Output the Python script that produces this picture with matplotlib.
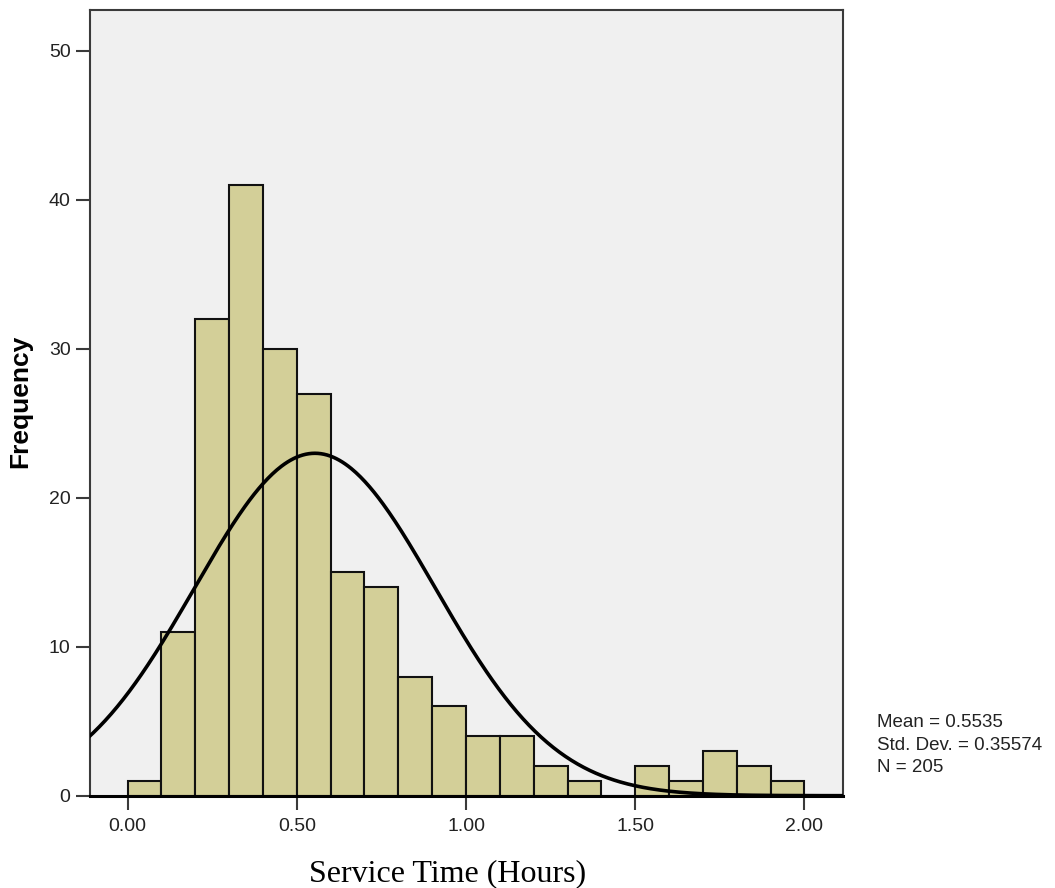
import numpy as np
import matplotlib
matplotlib.use("Agg")
import matplotlib.pyplot as plt
from matplotlib.ticker import FormatStrFormatter

# Data
bin_edges = [round(0.1 * i, 1) for i in range(21)]
counts = [1, 11, 32, 41, 30, 27, 15, 14, 8, 6, 4, 4, 2, 1, 0, 2, 1, 3, 2, 1]
mean_val = 0.5535
std_val = 0.35574
n_val = 205
x_ticks = [0.0, 0.5, 1.0, 1.5, 2.0]
y_ticks = [0, 10, 20, 30, 40, 50]

fig = plt.figure(figsize=(10.55, 8.88), dpi=100)
ax = fig.add_axes([90 / 1055, (888 - 795.7) / 888, (842.7 - 90) / 1055, (795.7 - 10) / 888])
ax.set_facecolor("#f0f0f0")

lefts = bin_edges[:-1]
widths = [bin_edges[i + 1] - bin_edges[i] for i in range(len(counts))]
ax.bar(lefts, counts, width=widths, align="edge", color="#d3cf98",
       edgecolor="#111111", linewidth=1.5, zorder=2)

bw = widths[0]
xs = np.linspace(-0.12, 2.12, 500)
ys = n_val * bw * np.exp(-0.5 * ((xs - mean_val) / std_val) ** 2) / (std_val * np.sqrt(2 * np.pi))
ax.plot(xs, ys, color="black", linewidth=2.6, zorder=3)

ax.set_xlim(-0.111, 2.113)
ax.set_ylim(0, 52.75)
ax.set_xticks(x_ticks)
ax.set_yticks(y_ticks)
ax.xaxis.set_major_formatter(FormatStrFormatter("%.2f"))

for s in ["left", "top", "right"]:
    ax.spines[s].set_color("#3a3a3a")
    ax.spines[s].set_linewidth(1.5)
ax.spines["bottom"].set_color("black")
ax.spines["bottom"].set_linewidth(2.2)
ax.spines["bottom"].set_zorder(4)

ax.tick_params(axis="both", direction="out", length=10, width=1.5, color="#3a3a3a",
               labelcolor="#222222", labelsize=14)
ax.tick_params(axis="x", pad=6)
ax.tick_params(axis="y", pad=4)
for lab in ax.get_xticklabels() + ax.get_yticklabels():
    lab.set_family("Liberation Sans")

fig.text(20 / 1055, 1 - 401 / 888, "Frequency", rotation=90, ha="center", va="center",
         fontsize=19, fontweight="bold", family="Liberation Sans", color="black")

fig.text(448 / 1055, (888 - 881) / 888, "Service Time (Hours)", ha="center", va="baseline",
         fontsize=23, family="Liberation Serif", color="black")

stats = [f"Mean = {mean_val:.4f}", f"Std. Dev. = {std_val:.5f}", f"N = {n_val}"]
baselines = [727, 749.5, 772]
for t, b in zip(stats, baselines):
    fig.text(877 / 1055, (888 - b) / 888, t, ha="left", va="baseline",
             fontsize=13.5, family="Liberation Sans", color="#222222")

fig.savefig("out.png", dpi=100)
